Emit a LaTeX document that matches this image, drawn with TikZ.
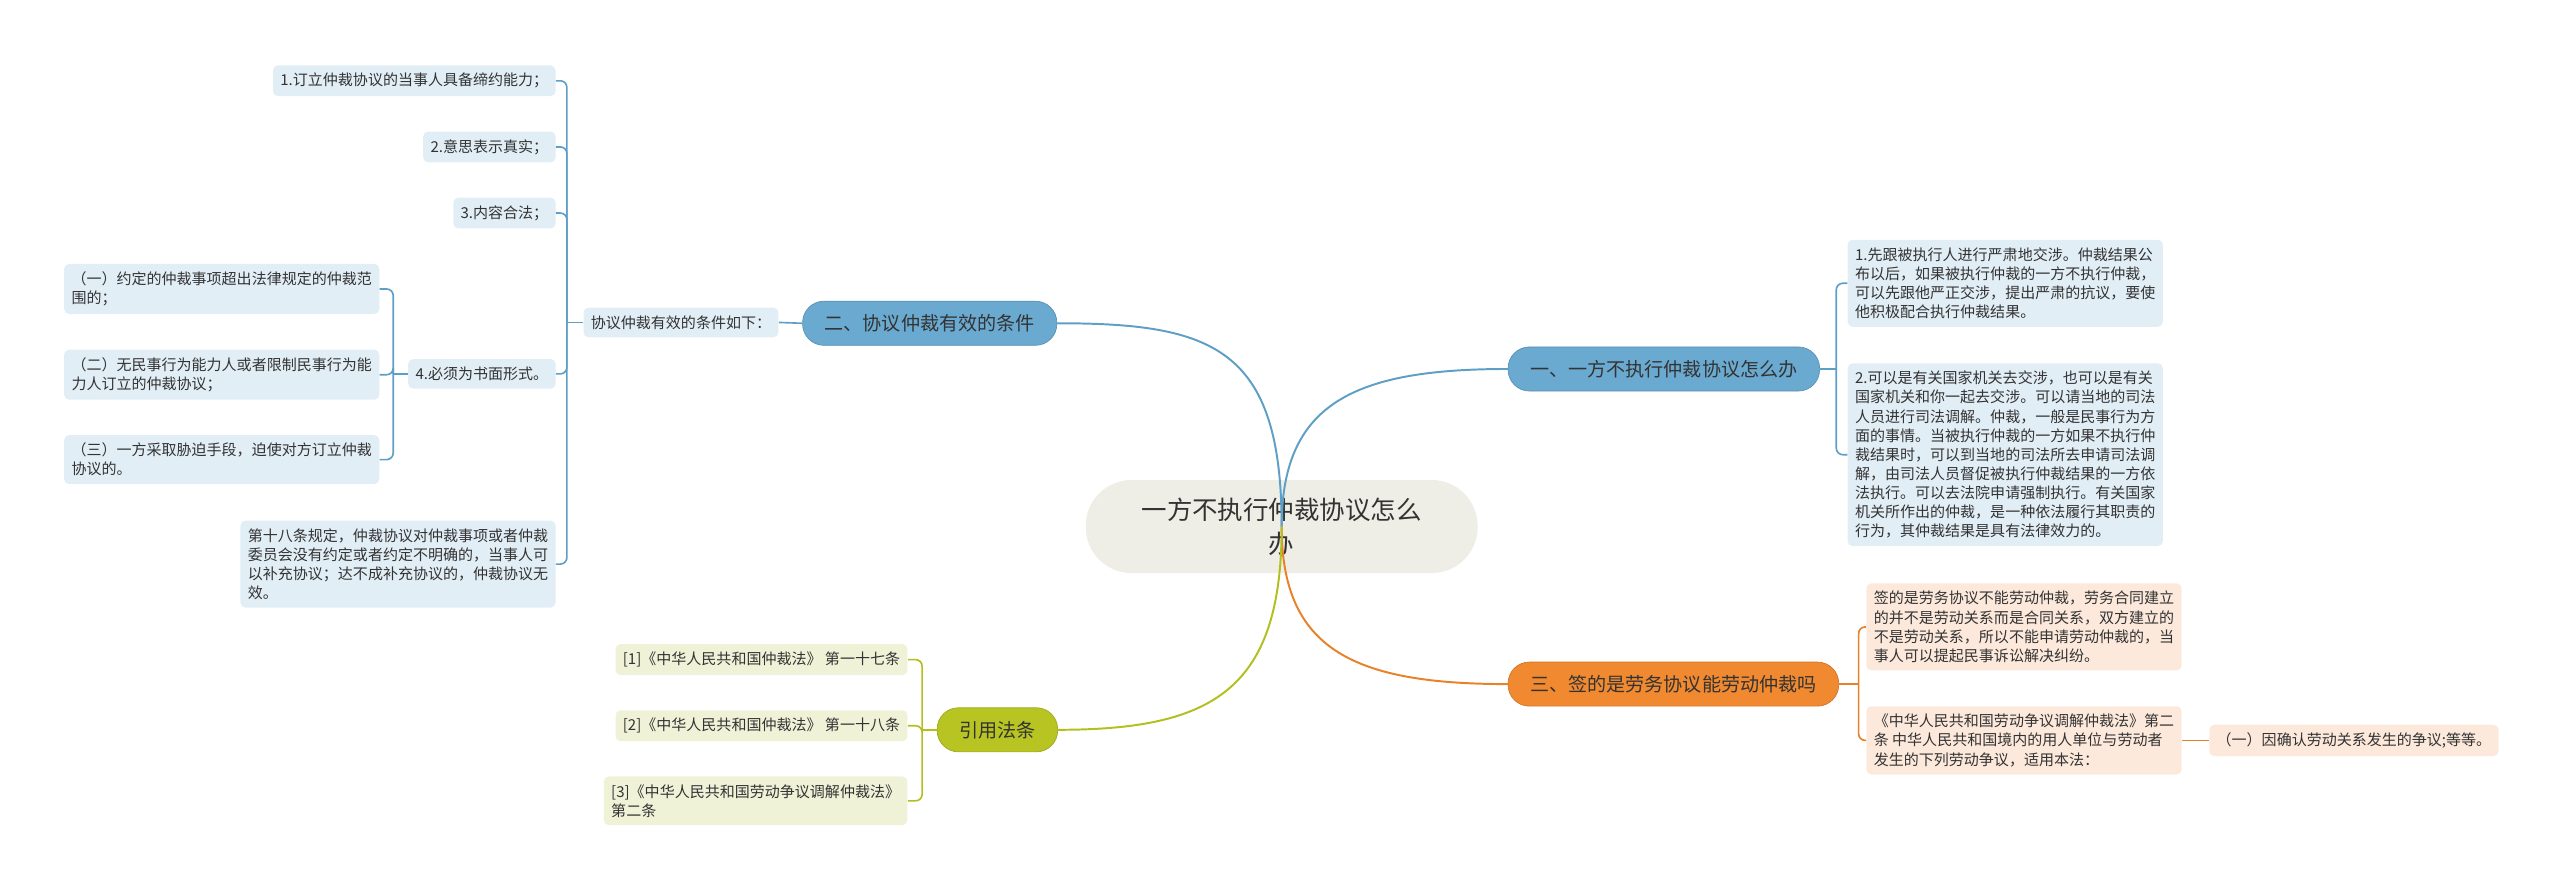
\documentclass[tikz,border=0pt]{standalone}
\usepackage{fontspec}
\setmainfont{Noto Sans CJK SC}
\usetikzlibrary{positioning}
\definecolor{cblue}{HTML}{6AAAD0}
\definecolor{lblue}{HTML}{5E9FC6}
\definecolor{pblue}{HTML}{E2EEF6}
\definecolor{corange}{HTML}{F0892F}
\definecolor{lorange}{HTML}{E8822A}
\definecolor{porange}{HTML}{FCE9DB}
\definecolor{cgreen}{HTML}{B7C422}
\definecolor{lgreen}{HTML}{B2BF1E}
\definecolor{pgreen}{HTML}{F0F2D8}
\definecolor{ccenter}{HTML}{EEEEE6}
\definecolor{ctext}{HTML}{333333}
\begin{document}
\begin{tikzpicture}[
x=1pt,y=-1pt,
every node/.style={text=ctext,inner sep=0pt},
center/.style={fill=ccenter,rounded corners=28pt,minimum width=240pt,minimum height=57pt,align=center,font=\fontsize{15.6}{20.7}\selectfont},
branch/.style={fill=#1,draw=#1!85!black,line width=0.4pt,rounded corners=13pt,minimum height=27pt,inner xsep=13.5pt,font=\fontsize{11.7}{14}\selectfont},
leaf/.style={fill=#1,rounded corners=3pt,inner xsep=4.5pt,inner ysep=4.8pt,align=left,font=\fontsize{9.2}{11.7}\selectfont},
mainline/.style={draw=#1,line width=1.2pt},
subline/.style={draw=#1,line width=1pt,rounded corners=4pt}
]
\useasboundingbox (0,0) rectangle (1568,546);

\node[center] (c) at (785,322.5) {一方不执行仲裁协议怎么\\办};
\coordinate (ctr) at (785,322.5);

\node[branch=cblue,anchor=west] (b1) at (923.5,226) {一、一方不执行仲裁协议怎么办};
\node[branch=cblue,anchor=east] (b2) at (647.5,198) {二、协议仲裁有效的条件};
\node[branch=corange,anchor=west] (b3) at (923.5,419) {三、签的是劳务协议能劳动仲裁吗};
\node[branch=cgreen,anchor=east] (g) at (648,447) {引用法条};

\node[leaf=pblue,anchor=west] (r1) at (1131.5,173.5) {1.先跟被执行人进行严肃地交涉。仲裁结果公\\布以后，如果被执行仲裁的一方不执行仲裁，\\可以先跟他严正交涉，提出严肃的抗议，要使\\他积极配合执行仲裁结果。};
\node[leaf=pblue,anchor=west] (r2) at (1131.5,278.5) {2.可以是有关国家机关去交涉，也可以是有关\\国家机关和你一起去交涉。可以请当地的司法\\人员进行司法调解。仲裁，一般是民事行为方\\面的事情。当被执行仲裁的一方如果不执行仲\\裁结果时，可以到当地的司法所去申请司法调\\解，由司法人员督促被执行仲裁结果的一方依\\法执行。可以去法院申请强制执行。有关国家\\机关所作出的仲裁，是一种依法履行其职责的\\行为，其仲裁结果是具有法律效力的。};

\node[leaf=pblue,anchor=east] (k) at (477,197.5) {协议仲裁有效的条件如下：};
\node[leaf=pblue,anchor=east] (k1) at (340.5,49.5) {1.订立仲裁协议的当事人具备缔约能力；};
\node[leaf=pblue,anchor=east] (k2) at (340.5,90) {2.意思表示真实；};
\node[leaf=pblue,anchor=east] (k3) at (340.5,130.5) {3.内容合法；};
\node[leaf=pblue,anchor=east] (k4) at (340.5,229) {4.必须为书面形式。};
\node[leaf=pblue,anchor=east] (k5) at (340.5,345.5) {第十八条规定，仲裁协议对仲裁事项或者仲裁\\委员会没有约定或者约定不明确的，当事人可\\以补充协议；达不成补充协议的，仲裁协议无\\效。};
\node[leaf=pblue,anchor=east] (m1) at (232.5,177) {（一）约定的仲裁事项超出法律规定的仲裁范\\围的；};
\node[leaf=pblue,anchor=east] (m2) at (232.5,229.5) {（二）无民事行为能力人或者限制民事行为能\\力人订立的仲裁协议；};
\node[leaf=pblue,anchor=east] (m3) at (232.5,281.5) {（三）一方采取胁迫手段，迫使对方订立仲裁\\协议的。};

\node[leaf=porange,anchor=west] (o1) at (1143,384) {签的是劳务协议不能劳动仲裁，劳务合同建立\\的并不是劳动关系而是合同关系，双方建立的\\不是劳动关系，所以不能申请劳动仲裁的，当\\事人可以提起民事诉讼解决纠纷。};
\node[leaf=porange,anchor=west] (o2) at (1143,453.5) {《中华人民共和国劳动争议调解仲裁法》第二\\条 中华人民共和国境内的用人单位与劳动者\\发生的下列劳动争议，适用本法：};
\node[leaf=porange,anchor=west] (o3) at (1353,453.5) {（一）因确认劳动关系发生的争议;等等。};

\node[leaf=pgreen,anchor=east] (g1) at (556,404) {[1]《中华人民共和国仲裁法》 第一十七条};
\node[leaf=pgreen,anchor=east] (g2) at (556,444.5) {[2]《中华人民共和国仲裁法》 第一十八条};
\node[leaf=pgreen,anchor=east] (g3) at (556,490.5) {[3]《中华人民共和国劳动争议调解仲裁法》\\第二条};

\draw[mainline=lblue] (ctr) .. controls +(0,-75) and +(-95,0) .. (b1.west);
\draw[mainline=lblue] (ctr) .. controls +(0,-110) and +(95,0) .. (b2.east);
\draw[mainline=lorange] (ctr) .. controls +(0,75) and +(-95,0) .. (b3.west);
\draw[mainline=lgreen] (ctr) .. controls +(0,100) and +(95,0) .. (g.east);

\draw[subline=lblue] (b1.east) -- ++(10,0) coordinate (s1);
\draw[subline=lblue] (s1) |- (r1.west);
\draw[subline=lblue] (s1) |- (r2.west);

\draw[subline=lblue] (b2.west) -- (k.east);
\draw[subline=lblue] (k.west) -- ++(-10,0) coordinate (s2);
\draw[subline=lblue] (s2) |- (k1.east);
\draw[subline=lblue] (s2) |- (k2.east);
\draw[subline=lblue] (s2) |- (k3.east);
\draw[subline=lblue] (s2) |- (k4.east);
\draw[subline=lblue] (s2) |- (k5.east);

\draw[subline=lblue] (k4.west) -- ++(-9,0) coordinate (s3);
\draw[subline=lblue] (s3) |- (m1.east);
\draw[subline=lblue] (s3) |- (m2.east);
\draw[subline=lblue] (s3) |- (m3.east);

\draw[subline=lorange] (b3.east) -- ++(12,0) coordinate (s4);
\draw[subline=lorange] (s4) |- (o1.west);
\draw[subline=lorange] (s4) |- (o2.west);
\draw[subline=lorange] (o2.east) -- (o3.west);

\draw[subline=lgreen] (g.west) -- ++(-9,0) coordinate (s5);
\draw[subline=lgreen] (s5) |- (g1.east);
\draw[subline=lgreen] (s5) |- (g2.east);
\draw[subline=lgreen] (s5) |- (g3.east);
\end{tikzpicture}
\end{document}
